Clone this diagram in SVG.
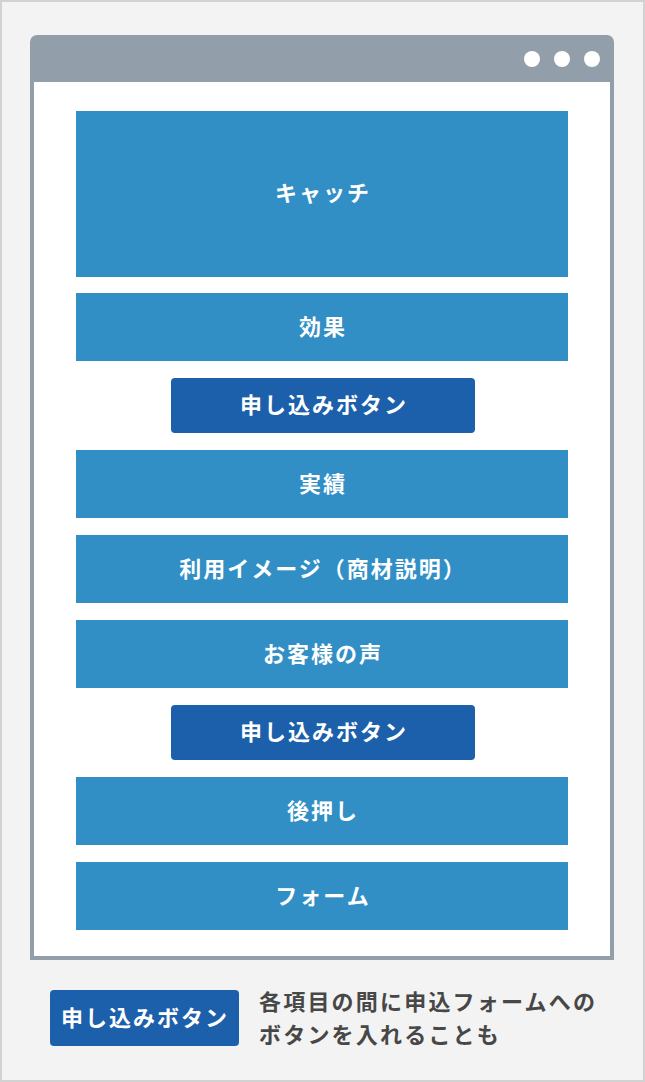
<svg xmlns="http://www.w3.org/2000/svg" width="645" height="1082" viewBox="0 0 645 1082">
<style>
.sec{fill:#318fc6}
.btn{fill:#1c5fab}
.t{font-family:"Noto Sans CJK JP","Noto Sans",sans-serif;font-weight:700;font-size:22px;fill:#fff;text-anchor:middle;dominant-baseline:central;letter-spacing:2px}
.n{font-family:"Noto Sans CJK JP","Noto Sans",sans-serif;font-weight:700;font-size:22px;fill:#474747;letter-spacing:2.2px;dominant-baseline:central}
</style>
<rect x="1" y="1" width="643" height="1080" fill="#f3f3f3" stroke="#d2d2d2" stroke-width="2"/>
<g id="window">
<path d="M30 42 a7 7 0 0 1 7 -7 h570 a7 7 0 0 1 7 7 v918 h-584 z" fill="#929eaa"/>
<rect x="34" y="82" width="576" height="874" fill="#fff"/>
<circle cx="532" cy="59" r="8" fill="#fff"/>
<circle cx="562" cy="59" r="8" fill="#fff"/>
<circle cx="592" cy="59" r="8" fill="#fff"/>
</g>
<g id="catch"><rect class="sec" x="76" y="111" width="492" height="166"/><text class="t" x="323" y="191">キャッチ</text></g>
<g id="effect"><rect class="sec" x="76" y="293" width="492" height="68"/><text class="t" x="323" y="325">効果</text></g>
<g id="button1"><rect class="btn" x="171" y="378" width="304" height="55" rx="4"/><text class="t" x="324" y="403">申し込みボタン</text></g>
<g id="results"><rect class="sec" x="76" y="450" width="492" height="68"/><text class="t" x="323" y="482">実績</text></g>
<g id="usage"><rect class="sec" x="76" y="535" width="492" height="68"/><text class="t" x="323" y="567">利用イメージ（商材説明）</text></g>
<g id="voice"><rect class="sec" x="76" y="620" width="492" height="68"/><text class="t" x="323" y="652">お客様の声</text></g>
<g id="button2"><rect class="btn" x="171" y="705" width="304" height="55" rx="4"/><text class="t" x="324" y="730">申し込みボタン</text></g>
<g id="push"><rect class="sec" x="76" y="777" width="492" height="68"/><text class="t" x="323" y="809">後押し</text></g>
<g id="form"><rect class="sec" x="76" y="862" width="492" height="68"/><text class="t" x="323" y="894">フォーム</text></g>
<g id="legend">
<rect class="btn" x="50" y="990" width="189" height="56" rx="4"/>
<text class="t" x="145" y="1016">申し込みボタン</text>
<text class="n" x="259" y="1000">各項目の間に申込フォームへの</text>
<text class="n" x="259" y="1033">ボタンを入れることも</text>
</g>
<g id="connectors"/>
</svg>
